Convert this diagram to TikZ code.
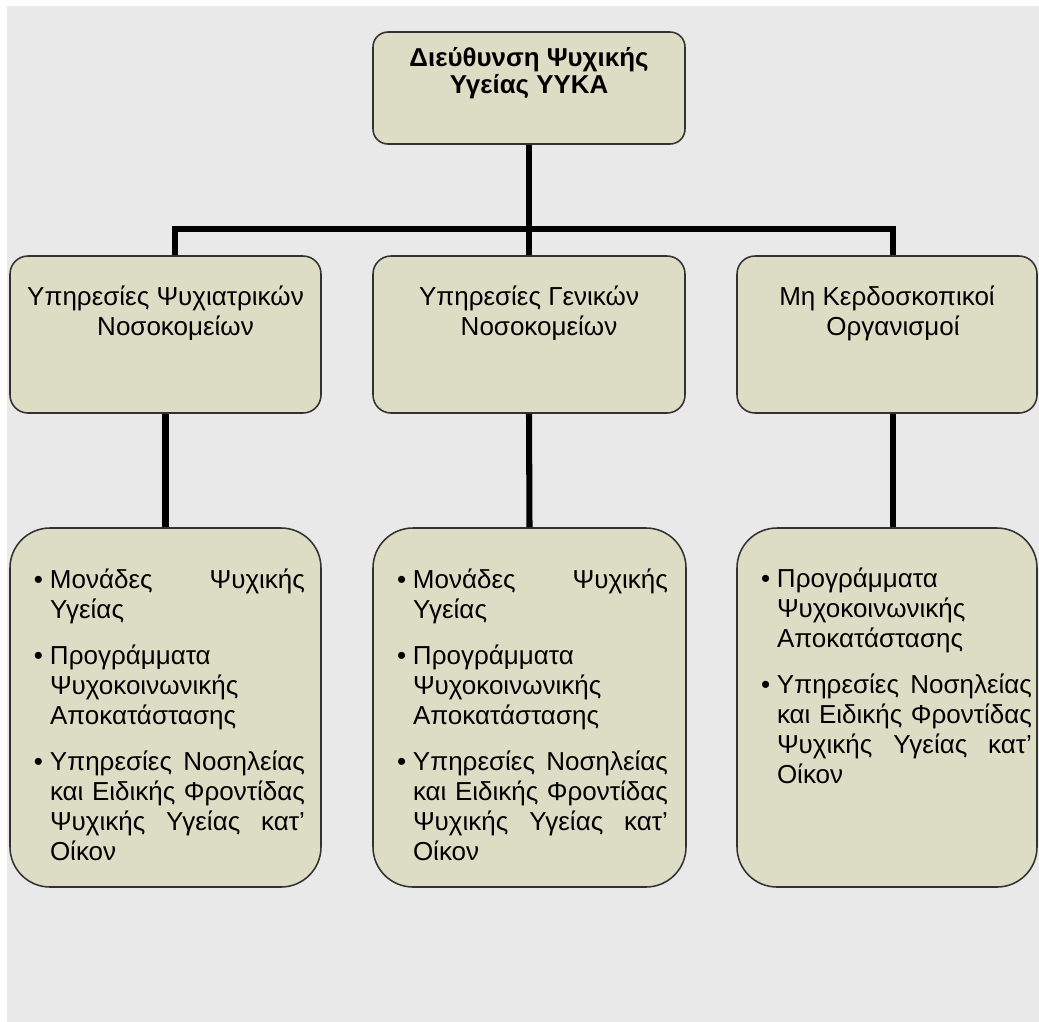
\documentclass[tikz,border=0pt]{standalone}
\usepackage{fontspec}
\setmainfont{Liberation Sans}
\usepackage{tikz}
\usetikzlibrary{calc}
\definecolor{MyBackGrey}{RGB}{233,233,233}
\definecolor{MyBoxFill}{RGB}{221,221,197}
\definecolor{MyDarkGrey}{RGB}{50,50,50}
\newdimen\pxu
\pxu=0.025cm
\newcommand{\boxfont}{\fontsize{18.49pt}{21.34pt}\selectfont}
\newcommand{\headfont}{\fontsize{18.4pt}{19.9pt}\selectfont\bfseries}
\newcommand{\bitem}[1]{\par\noindent\hangindent=17\pxu\hangafter=1\makebox[17\pxu][l]{\hspace*{1\pxu}•}#1\par}
\newcommand{\unitlist}[1]{\hspace*{23\pxu}\parbox[t]{272\pxu}{\boxfont\parskip=16\pxu\hyphenpenalty=10000\rightskip=0pt #1}}

\begin{document}
\begin{tikzpicture}[x=0.025cm,y=-0.025cm]
  \tikzstyle{every node}=[inner sep=0pt]
  \tikzstyle{box}=[draw=MyDarkGrey, fill=MyBoxFill, line width=1.1pt]
  \tikzstyle{link}=[line width=4.3pt, draw=black]
  \useasboundingbox (0,0) rectangle (1039,1021);
  \fill[white] (0,0) rectangle (1039,1021);
  \fill[MyBackGrey] (7,6) rectangle (1050,1030);
  % head
  \node[box, rounded corners=0.375cm] (top) at (529,88)
    {\parbox[c][112\pxu][t]{312\pxu}{\centering\headfont\rule{0pt}{34\pxu}Διεύθυνση Ψυχικής\\Υγείας ΥΥΚΑ}};
  % services
  \node[box, rounded corners=0.45cm] (srvpsy) at (165.5,334.5)
    {\parbox[c][157\pxu][t]{311\pxu}{\centering\boxfont\rule{0pt}{49\pxu}Υπηρεσίες Ψυχιατρικών\\\hspace*{20\pxu}Νοσοκομείων}};
  \node[box, rounded corners=0.45cm] (srvgen) at (529,334.5)
    {\parbox[c][157\pxu][t]{312\pxu}{\centering\boxfont\rule{0pt}{49\pxu}Υπηρεσίες Γενικών\\\hspace*{20\pxu}Νοσοκομείων}};
  \node[box, rounded corners=0.45cm] (srvngo) at (887,334.5)
    {\parbox[c][157\pxu][t]{300\pxu}{\centering\boxfont\rule{0pt}{49\pxu}Μη Κερδοσκοπικοί\\\hspace*{12\pxu}Οργανισμοί}};
  % units
  \node[box, rounded corners=1cm] (unitpsy) at (165.5,707.5)
    {\parbox[c][359\pxu][t]{311\pxu}{\unitlist{%
      \bitem{\rule{0pt}{60\pxu}Μονάδες Ψυχικής\linebreak Υγείας}
      \bitem{Προγράμματα\newline Ψυχοκοινωνικής\newline Αποκατάστασης}
      \bitem{Υπηρεσίες Νοσηλείας\linebreak και Ειδικής Φροντίδας\linebreak Ψυχικής Υγείας κατ’\linebreak Οίκον}}}};
  \node[box, rounded corners=1cm] (unitgen) at (529.5,707.5)
    {\parbox[c][359\pxu][t]{313\pxu}{\unitlist{%
      \bitem{\rule{0pt}{60\pxu}Μονάδες Ψυχικής\linebreak Υγείας}
      \bitem{Προγράμματα\newline Ψυχοκοινωνικής\newline Αποκατάστασης}
      \bitem{Υπηρεσίες Νοσηλείας\linebreak και Ειδικής Φροντίδας\linebreak Ψυχικής Υγείας κατ’\linebreak Οίκον}}}};
  \node[box, rounded corners=1cm] (unitngo) at (887,707.5)
    {\parbox[c][359\pxu][t]{300\pxu}{\unitlist{%
      \bitem{\rule{0pt}{59\pxu}Προγράμματα\newline Ψυχοκοινωνικής\newline Αποκατάστασης}
      \bitem{Υπηρεσίες Νοσηλείας\linebreak και Ειδικής Φροντίδας\linebreak Ψυχικής Υγείας κατ’\linebreak Οίκον}}}};
  % connectors
  \coordinate (barl) at (175,229);
  \coordinate (barr) at (893,229);
  \draw[link] (top.south) -- (top.south |- barl);
  \draw[link] (barl |- srvpsy.north) -- (barl) -- (barr) -- (barr |- srvngo.north);
  \draw[link] (srvgen.north) -- (srvgen.north |- barl);
  \draw[link] (srvpsy.south) -- (unitpsy.north);
  \draw[link] (srvgen.south) -- (unitgen.north);
  \draw[link] (barr |- srvngo.south) -- (barr |- unitngo.north);
\end{tikzpicture}
\end{document}
